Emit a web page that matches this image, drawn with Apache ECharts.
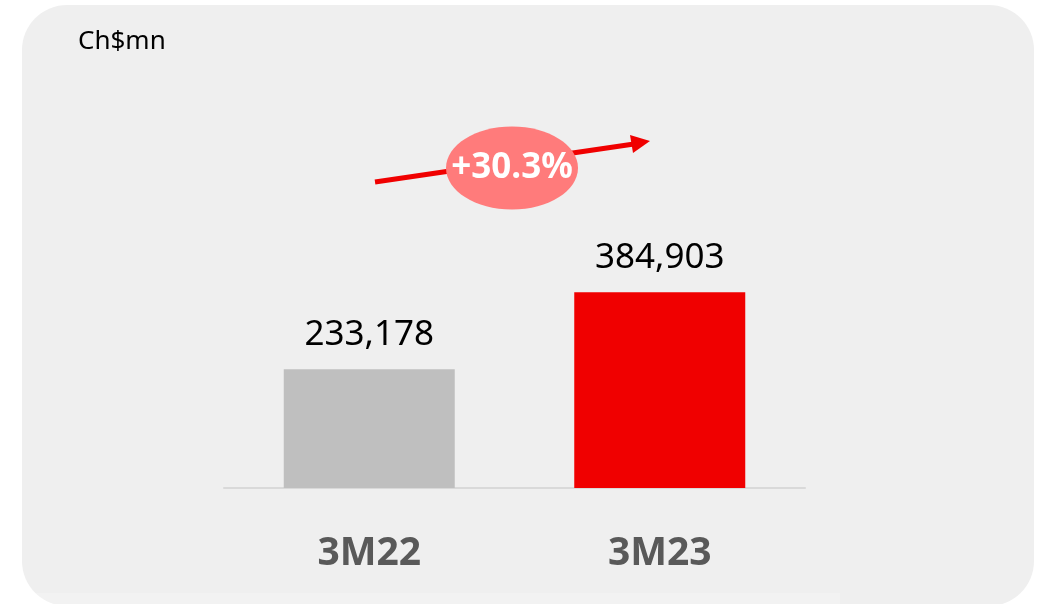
<!DOCTYPE html>
<html>
<head>
<meta charset="utf-8">
<script src="https://cdn.jsdelivr.net/npm/echarts@6/dist/echarts.min.js"></script>
<style>
  html, body { margin: 0; padding: 0; background: #ffffff; }
  #main { width: 1045px; height: 604px; }
</style>
</head>
<body>
<div id="main"></div>
<script>
const categories = ['3M22', '3M23'];
const values = [233178, 384903];
const barColors = ['#bfbfbf', '#f00000'];
const unitLabel = 'Ch$mn';
const growthLabel = '+30.3%';

const chart = echarts.init(document.getElementById('main'));

const option = {
  backgroundColor: '#ffffff',
  animation: false,
  textStyle: { fontFamily: 'Noto Sans' },
  graphic: [
    // panel
    {
      type: 'rect', z: -10, silent: true,
      shape: { x: 22, y: 5, width: 1012, height: 601, r: 45 },
      style: { fill: '#efefef' }
    },
    {
      type: 'rect', z: -9, silent: true,
      shape: { x: 0, y: 593, width: 840, height: 11 },
      style: { fill: '#ffffff', opacity: 0.2 }
    },
    {
      type: 'text', left: 78, top: 29,
      style: { text: unitLabel, fontSize: 26, fill: '#000000', fontFamily: 'Noto Sans' }
    },
    // growth arrow
    {
      type: 'line', z: 10,
      shape: { x1: 375, y1: 182, x2: 634, y2: 144 },
      style: { stroke: '#f00000', lineWidth: 5 }
    },
    {
      type: 'polygon', z: 10,
      shape: { points: [[650, 141], [630, 135], [633, 153]] },
      style: { fill: '#f00000' }
    },
    {
      type: 'ellipse', z: 11,
      shape: { cx: 512, cy: 168, rx: 66, ry: 41.5 },
      style: { fill: '#ff7b7b' }
    },
    {
      type: 'text', z: 12, x: 512, y: 168,
      style: {
        text: growthLabel, fontSize: 35, fontWeight: 'bold', fill: '#ffffff',
        align: 'center', verticalAlign: 'middle', fontFamily: 'Noto Sans'
      }
    }
  ],
  grid: {
    left: 224,
    right: 240,
    bottom: 116,
    top: 81
  },
  xAxis: {
    type: 'category',
    data: categories,
    axisLine: { lineStyle: { color: '#d9d9d9', width: 2 } },
    axisTick: { show: false },
    axisLabel: {
      margin: 46,
      fontSize: 39,
      fontWeight: 'bold',
      color: '#595959',
      fontFamily: 'Noto Sans'
    }
  },
  yAxis: {
    type: 'value',
    min: 0,
    max: 800000,
    show: false,
    splitLine: { show: false }
  },
  series: [{
    type: 'bar',
    barWidth: 171,
    data: values.map((v, i) => ({ value: v, itemStyle: { color: barColors[i] } })),
    label: {
      show: true,
      position: 'top',
      distance: 17,
      fontSize: 35,
      color: '#000000',
      fontFamily: 'Noto Sans',
      formatter: p => p.value.toLocaleString('en-US')
    }
  }]
};

chart.setOption(option);
</script>
</body>
</html>
